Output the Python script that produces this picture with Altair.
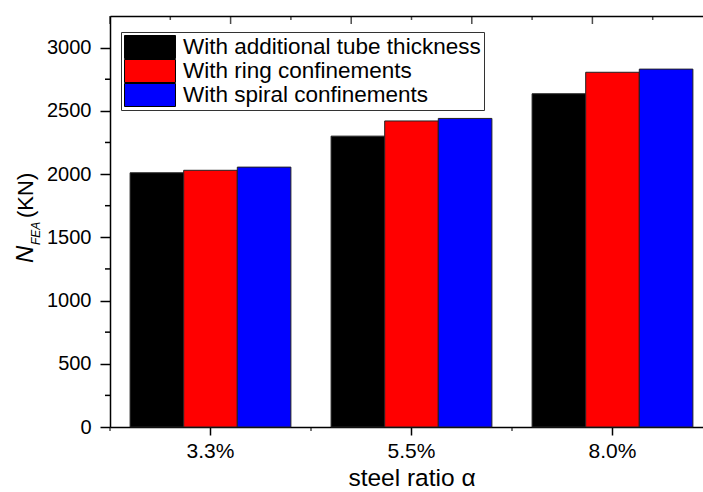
import altair as alt
import pandas as pd

categories = ["3.3%", "5.5%", "8.0%"]
series = ["With additional tube thickness", "With ring confinements", "With spiral confinements"]
additional = [2010, 2300, 2635]
ring = [2030, 2420, 2805]
spiral = [2055, 2440, 2830]
colors = ["#000000", "#ff0000", "#0000ff"]
y_major = [0, 500, 1000, 1500, 2000, 2500, 3000]
y_minor = [250, 750, 1250, 1750, 2250, 2750]
x_bounds = [0, 1, 2, 3]
top_major = [0, 1, 2, 3, 4, 5]
top_minor = [0.5, 1.5, 2.5, 3.5, 4.5]
y_title_parts = ["N", "FEA", "(KN)"]
x_title = "steel ratio α"

rows = []
for s, vals in zip(series, [additional, ring, spiral]):
    for c, v in zip(categories, vals):
        rows.append({"ratio": c, "series": s, "value": v})
df = pd.DataFrame(rows)

FONT = "Liberation Sans"
W, H = 593, 411
XR = [0, 603]

xscale = alt.Scale(domain=categories, range=XR, paddingInner=0.2, paddingOuter=0.1)
yscale = alt.Scale(domain=[0, 3250], nice=False, zero=True)

bars = alt.Chart(df).mark_bar(stroke="#222222", strokeWidth=1).encode(
    x=alt.X("ratio:N", sort=categories, scale=xscale,
            axis=alt.Axis(orient="bottom", title=x_title, tickSize=8, labelPadding=5,
                          labelFontSize=21, titleFontSize=24.5, labelAngle=0, titlePadding=5,
                          domainColor="black", tickColor="black", domainWidth=1.5, tickWidth=1.5,
                          labelColor="black", titleColor="black", titleFontWeight="normal",
                          labelFont=FONT, titleFont=FONT)),
    xOffset=alt.XOffset("series:N", sort=series,
                        scale=alt.Scale(domain=series, paddingInner=0, paddingOuter=0)),
    y=alt.Y("value:Q", scale=yscale,
            axis=alt.Axis(orient="left", values=y_major, format="d", title=None, tickSize=10,
                          labelPadding=9, labelFontSize=20, grid=False, domainColor="black",
                          tickColor="black", domainWidth=1.5, tickWidth=1.5, labelColor="black",
                          labelFont=FONT)),
    color=alt.Color("series:N", sort=series,
                    scale=alt.Scale(domain=series, range=colors),
                    legend=alt.Legend(orient="none", legendX=11, legendY=16, title=None, padding=3,
                                      strokeColor="#333333", fillColor="white",
                                      symbolType="M-1,-1H3.434V1H-1Z", symbolSize=529,
                                      symbolStrokeColor="black", symbolStrokeWidth=1,
                                      labelFontSize=22.5, labelOffset=35, rowPadding=0,
                                      clipHeight=24,
                                      labelFont=FONT, labelColor="black", labelLimit=0,
                                      symbolOpacity=1)),
)

# y minor ticks (outside, left)
ymin = alt.Chart(pd.DataFrame({"v": y_minor})).mark_rule(color="black", strokeWidth=1.5).encode(
    y=alt.Y("v:Q", scale=yscale, axis=None), x=alt.value(-5), x2=alt.value(0))

# x minor ticks at category boundaries (bottom, outside); ticks sit at mid-height + yOffset
xmin = alt.Chart(pd.DataFrame({"b": x_bounds})).mark_tick(
    color="black", thickness=1.5, size=4, yOffset=H / 2 + 2).encode(
    x=alt.X("b:Q", scale=alt.Scale(domain=[0, 3], range=XR, nice=False, zero=False), axis=None))

tscale = alt.Scale(domain=[0, 5], range=XR, nice=False, zero=False)

# top ticks (inside)
tmaj = alt.Chart(pd.DataFrame({"tk": top_major})).mark_tick(
    color="black", thickness=1.5, size=8, yOffset=-H / 2 + 4).encode(
    x=alt.X("tk:Q", scale=tscale, axis=None))
tmin = alt.Chart(pd.DataFrame({"tk": top_minor})).mark_tick(
    color="black", thickness=1.5, size=4, yOffset=-H / 2 + 2).encode(
    x=alt.X("tk:Q", scale=tscale, axis=None))

# top frame line
tdom = alt.Chart(pd.DataFrame({"tk": [0, 5]})).mark_point(opacity=0).encode(
    x=alt.X("tk:Q", scale=tscale,
            axis=alt.Axis(orient="top", labels=False, domain=True, ticks=False, title=None,
                          grid=False, domainColor="black", domainWidth=1.5)))


def ytext(i, x, y, size, italic):
    d = pd.DataFrame({"s": [y_title_parts[i]]})
    return alt.Chart(d).mark_text(angle=270, align="left", baseline="alphabetic", fontSize=size,
                                  fontStyle="italic" if italic else "normal", font=FONT,
                                  color="black").encode(
        x=alt.value(x), y=alt.value(y), text="s:N")


tN = ytext(0, -77, 247, 24, True)
tF = ytext(1, -70, 229, 12, True)
tK = ytext(2, -77, 202, 22, False)

chart = alt.layer(tmaj, tmin, xmin, tdom, bars, ymin, tN, tF, tK).resolve_scale(
    x="independent").resolve_axis(x="independent", y="independent").properties(
    width=W, height=H,
    autosize=alt.AutoSizeParams(type="none"),
    padding={"left": 110, "top": 16, "right": 0, "bottom": 65},
).configure_view(stroke=None).configure(font=FONT)

chart.save("out.html", embed_options={"renderer": "svg", "actions": False})
